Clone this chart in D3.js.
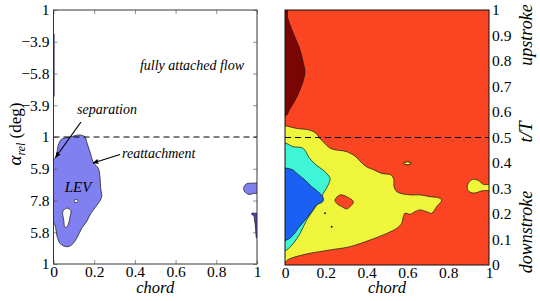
<!DOCTYPE html>
<html>
<head>
<meta charset="utf-8">
<script src="https://cdn.jsdelivr.net/npm/d3@7"></script>
<style>
  html, body { margin: 0; padding: 0; background: #fff; }
  svg { display: block; }
  text { font-family: "Liberation Serif", "DejaVu Serif", serif; fill: #000; }
</style>
</head>
<body>
<svg id="chart" width="540" height="301" font-family="Liberation Serif, DejaVu Serif, serif"></svg>
<script>
// ---------- data ----------
const chordTicks = [0, 0.2, 0.4, 0.6, 0.8, 1];
const chordTickLabels = ["0", "0.2", "0.4", "0.6", "0.8", "1"];
const phaseTicks = [0, 0.125, 0.25, 0.375, 0.5, 0.625, 0.75, 0.875, 1];
const alphaTickLabels = ["1", "5.8", "7.8", "5.9", "1", "\u22123.9", "\u22125.8", "\u22123.9", "1"];
const tTicks = [0, 0.1, 0.2, 0.3, 0.4, 0.5, 0.6, 0.7, 0.8, 0.9, 1];
const tTickLabels = ["0", "0.1", "0.2", "0.3", "0.4", "0.5", "0.6", "0.7", "0.8", "0.9", "1"];

// left panel: separated-flow regions [chord, t/T]
const levRegion = [[-0.03,0.42],[0.007,0.416],[0.024,0.469],[0.040,0.492],[0.081,0.500],[0.130,0.508],[0.155,0.500],[0.163,0.481],[0.179,0.442],[0.196,0.400],[0.220,0.377],[0.229,0.337],[0.232,0.298],[0.237,0.265],[0.220,0.239],[0.196,0.213],[0.179,0.193],[0.163,0.167],[0.139,0.141],[0.114,0.101],[0.089,0.075],[0.065,0.068],[0.032,0.081],[0.016,0.114],[0.007,0.154],[-0.03,0.2]];
const levHoleSmall = [[0.100,0.248],[0.111,0.254],[0.122,0.248],[0.111,0.242]];
const levHoleLong = [[0.046,0.207],[0.066,0.220],[0.085,0.210],[0.081,0.185],[0.069,0.150],[0.057,0.144],[0.050,0.175]];
const teBlob = [[1.03,0.317],[0.98,0.318],[0.95,0.316],[0.935,0.302],[0.94,0.284],[0.96,0.274],[0.985,0.278],[1.03,0.28]];
const teSliver = [[0.975,0.201],[0.988,0.200],[1.03,0.200],[1.03,0.104],[0.996,0.104],[0.992,0.150],[0.985,0.192],[0.975,0.194]];
const leStrip = [[-0.03,0.91],[0.004,0.905],[0.004,0.66],[-0.03,0.655]];

// right panel: contour levels [chord, t/T]
const yellowLevel = [[-0.03,0.546],[0,0.546],[0.055,0.536],[0.121,0.529],[0.153,0.516],[0.170,0.497],[0.195,0.477],[0.219,0.459],[0.251,0.451],[0.300,0.445],[0.348,0.424],[0.377,0.400],[0.402,0.384],[0.436,0.373],[0.475,0.359],[0.520,0.353],[0.534,0.333],[0.534,0.310],[0.549,0.287],[0.613,0.275],[0.662,0.275],[0.711,0.268],[0.751,0.264],[0.768,0.255],[0.744,0.229],[0.719,0.203],[0.695,0.209],[0.662,0.216],[0.637,0.209],[0.613,0.199],[0.588,0.203],[0.580,0.189],[0.572,0.164],[0.548,0.144],[0.499,0.124],[0.417,0.098],[0.319,0.072],[0.221,0.059],[0.123,0.046],[0.074,0.037],[0.025,0.025],[0.007,0.016],[0,0.008],[-0.03,0.005]];
const redHole = [[0.245,0.255],[0.270,0.275],[0.302,0.268],[0.335,0.248],[0.319,0.229],[0.302,0.220],[0.278,0.229],[0.253,0.242]];
const cyanLevel = [[-0.03,0.478],[0.005,0.477],[0.039,0.464],[0.088,0.458],[0.121,0.418],[0.153,0.392],[0.186,0.373],[0.211,0.353],[0.221,0.340],[0.212,0.314],[0.188,0.281],[0.172,0.255],[0.139,0.216],[0.106,0.176],[0.074,0.124],[0.041,0.085],[0.008,0.059],[-0.03,0.05]];
const blueLevel = [[-0.03,0.385],[0.005,0.38],[0.039,0.373],[0.057,0.360],[0.098,0.333],[0.131,0.307],[0.163,0.287],[0.188,0.262],[0.185,0.248],[0.155,0.235],[0.131,0.209],[0.098,0.176],[0.065,0.144],[0.041,0.118],[0.008,0.098],[-0.03,0.095]];
const darkRedLevel = [[-0.03,1.03],[0.01,1.03],[0.012,0.975],[0.016,0.961],[0.041,0.908],[0.074,0.843],[0.090,0.791],[0.098,0.758],[0.090,0.725],[0.066,0.673],[0.041,0.634],[0.021,0.608],[0.008,0.588],[-0.03,0.58]];
const yellowBlob = [[1.03,0.316],[0.974,0.316],[0.948,0.331],[0.924,0.336],[0.904,0.327],[0.893,0.305],[0.902,0.288],[0.925,0.282],[0.974,0.292],[1.03,0.292]];
const yellowSpeck = [[0.58,0.399],[0.60,0.405],[0.62,0.399],[0.60,0.393]];
const specks = [[0.229,0.150],[0.196,0.203]];

// ---------- drawing ----------
const svg = d3.select("#chart");
const C = { orange: "#fa4422", yellow: "#eef53a", cyan: "#3ef5d6", blue: "#1a60f5", dark: "#7a0505", lav: "#8080f0" };

const xL = d3.scaleLinear().domain([0, 1]).range([53.5, 257]);
const yL = d3.scaleLinear().domain([0, 1]).range([264, 10]);
const xR = d3.scaleLinear().domain([0, 1]).range([285, 489]);
const yR = d3.scaleLinear().domain([0, 1]).range([265, 10]);

const defs = svg.append("defs");
defs.append("clipPath").attr("id", "clipL").append("rect")
  .attr("x", xL(0)).attr("y", yL(1)).attr("width", xL(1) - xL(0)).attr("height", yL(0) - yL(1));
defs.append("clipPath").attr("id", "clipR").append("rect")
  .attr("x", xR(0)).attr("y", yR(1)).attr("width", xR(1) - xR(0)).attr("height", yR(0) - yR(1));
const m = defs.append("marker").attr("id", "arr").attr("viewBox", "0 0 10 10")
  .attr("refX", 9).attr("refY", 5).attr("markerWidth", 6).attr("markerHeight", 6)
  .attr("orient", "auto").attr("markerUnits", "userSpaceOnUse");
m.append("path").attr("d", "M0,1 L10,5 L0,9 Z").attr("fill", "#000");

function shape(g, pts, xs, ys, fill, sw, linear) {
  const curve = linear ? d3.curveLinearClosed : d3.curveCatmullRomClosed.alpha(0.5);
  const line = d3.line().x(d => xs(d[0])).y(d => ys(d[1])).curve(curve);
  g.append("path").attr("d", line(pts)).attr("fill", fill)
    .attr("stroke", "#111").attr("stroke-width", sw == null ? 0.7 : sw);
}

// ---- left panel ----
const gL = svg.append("g").attr("clip-path", "url(#clipL)");
gL.append("rect").attr("x", xL(0)).attr("y", yL(1)).attr("width", xL(1) - xL(0)).attr("height", yL(0) - yL(1)).attr("fill", "#fff");
shape(gL, levRegion, xL, yL, C.lav);
shape(gL, levHoleSmall, xL, yL, "#fff");
shape(gL, levHoleLong, xL, yL, "#fff");
shape(gL, teBlob, xL, yL, C.lav);
shape(gL, teSliver, xL, yL, "#4848c0", 0.7, true);
shape(gL, leStrip, xL, yL, "#2a2ad0", 0.4, true);

// ---- right panel ----
const gR = svg.append("g").attr("clip-path", "url(#clipR)");
gR.append("rect").attr("x", xR(0)).attr("y", yR(1)).attr("width", xR(1) - xR(0)).attr("height", yR(0) - yR(1)).attr("fill", C.orange);
shape(gR, yellowLevel, xR, yR, C.yellow);
shape(gR, redHole, xR, yR, C.orange);
shape(gR, cyanLevel, xR, yR, C.cyan);
shape(gR, blueLevel, xR, yR, C.blue);
shape(gR, darkRedLevel, xR, yR, C.dark);
shape(gR, yellowBlob, xR, yR, C.yellow);
shape(gR, yellowSpeck, xR, yR, C.yellow, 0.9);
gR.selectAll("circle.sp").data(specks).enter().append("circle")
  .attr("cx", d => xR(d[0])).attr("cy", d => yR(d[1])).attr("r", 0.9).attr("fill", "#111");

// dashed mid-cycle lines
svg.append("line").attr("x1", xL(0)).attr("x2", xL(1)).attr("y1", yL(0.5)).attr("y2", yL(0.5))
  .attr("stroke", "#000").attr("stroke-width", 1).attr("stroke-dasharray", "6,4");
svg.append("line").attr("x1", xR(0)).attr("x2", xR(1)).attr("y1", yR(0.5)).attr("y2", yR(0.5))
  .attr("stroke", "#000").attr("stroke-width", 1).attr("stroke-dasharray", "6,4");

// frames
svg.append("rect").attr("x", xL(0)).attr("y", yL(1)).attr("width", xL(1) - xL(0)).attr("height", yL(0) - yL(1))
  .attr("fill", "none").attr("stroke", "#222").attr("stroke-width", 0.9);
svg.append("rect").attr("x", xR(0)).attr("y", yR(1)).attr("width", xR(1) - xR(0)).attr("height", yR(0) - yR(1))
  .attr("fill", "none").attr("stroke", "#111").attr("stroke-width", 1);

// axes
function styleAxis(g) {
  g.attr("font-family", null).attr("font-size", null);
  g.select(".domain").remove();
  g.selectAll("text").style("font-family", "'Liberation Serif', 'DejaVu Serif', serif").style("font-size", "15.5px").attr("fill", "#000");
  g.selectAll("line").attr("stroke", "#444").attr("stroke-width", 0.6);
}
svg.append("g").attr("transform", `translate(0,${yL(0)})`)
  .call(d3.axisBottom(xL).tickValues(chordTicks).tickFormat((d, i) => chordTickLabels[i]).tickSizeInner(-4).tickSizeOuter(0).tickPadding(2))
  .call(styleAxis);
svg.append("g").attr("transform", `translate(${xL(0)},0)`)
  .call(d3.axisLeft(yL).tickValues(phaseTicks).tickFormat((d, i) => alphaTickLabels[i]).tickSizeInner(-4).tickSizeOuter(0).tickPadding(4))
  .call(styleAxis);
svg.append("g").attr("transform", `translate(${xL(1)},0)`)
  .call(d3.axisRight(yL).tickValues(phaseTicks).tickFormat("").tickSizeInner(-4).tickSizeOuter(0))
  .call(styleAxis);
svg.append("g").attr("transform", `translate(0,${yL(1)})`)
  .call(d3.axisTop(xL).tickValues(chordTicks).tickFormat("").tickSizeInner(-4).tickSizeOuter(0))
  .call(styleAxis);
svg.append("g").attr("transform", `translate(0,${yR(0)})`)
  .call(d3.axisBottom(xR).tickValues(chordTicks).tickFormat((d, i) => chordTickLabels[i]).tickSizeInner(0).tickSizeOuter(0).tickPadding(2))
  .call(styleAxis);
svg.append("g").attr("transform", `translate(${xR(1)},0)`)
  .call(d3.axisRight(yR).tickValues(tTicks).tickFormat((d, i) => tTickLabels[i]).tickSizeInner(0).tickSizeOuter(0).tickPadding(3))
  .call(styleAxis);

// axis titles
svg.append("text").attr("x", (xL(0) + xL(1)) / 2).attr("y", 293).attr("text-anchor", "middle")
  .style("font-size", "16.5px").style("font-style", "italic").text("chord");
svg.append("text").attr("x", (xR(0) + xR(1)) / 2).attr("y", 293).attr("text-anchor", "middle")
  .style("font-size", "16.5px").style("font-style", "italic").text("chord");

const yl = svg.append("text").attr("transform", "translate(21,134) rotate(-90)").attr("text-anchor", "middle").style("font-size", "17px");
yl.append("tspan").style("font-style", "italic").style("font-size", "19px").text("\u03b1");
yl.append("tspan").attr("dy", 4).style("font-style", "italic").style("font-size", "12px").text("rel");
yl.append("tspan").attr("dy", -4).text(" (deg)");

svg.append("text").attr("transform", "translate(532,132) rotate(-90)").attr("text-anchor", "middle")
  .style("font-size", "19px").style("font-style", "italic").text("t/T");
svg.append("text").attr("transform", "translate(532,35) rotate(-90)").attr("text-anchor", "middle")
  .style("font-size", "18px").style("font-style", "italic").text("upstroke");
svg.append("text").attr("transform", "translate(532,232) rotate(-90)").attr("text-anchor", "middle")
  .style("font-size", "18px").style("font-style", "italic").text("downstroke");

// annotations
svg.append("text").attr("x", 192).attr("y", 70).attr("text-anchor", "middle")
  .style("font-size", "14px").style("font-style", "italic").text("fully attached flow");
svg.append("text").attr("x", 107).attr("y", 114).attr("text-anchor", "middle")
  .style("font-size", "14px").style("font-style", "italic").text("separation");
svg.append("text").attr("x", 122).attr("y", 158)
  .style("font-size", "14px").style("font-style", "italic").text("reattachment");
svg.append("text").attr("x", 78).attr("y", 192).attr("text-anchor", "middle")
  .style("font-size", "15px").style("font-style", "italic").text("LEV");
svg.append("line").attr("x1", 81).attr("y1", 122).attr("x2", 55.5).attr("y2", 157.5)
  .attr("stroke", "#000").attr("stroke-width", 1.2).attr("marker-end", "url(#arr)");
svg.append("line").attr("x1", 120).attr("y1", 154.5).attr("x2", 93).attr("y2", 163)
  .attr("stroke", "#000").attr("stroke-width", 1.2).attr("marker-end", "url(#arr)");
</script>
</body>
</html>
